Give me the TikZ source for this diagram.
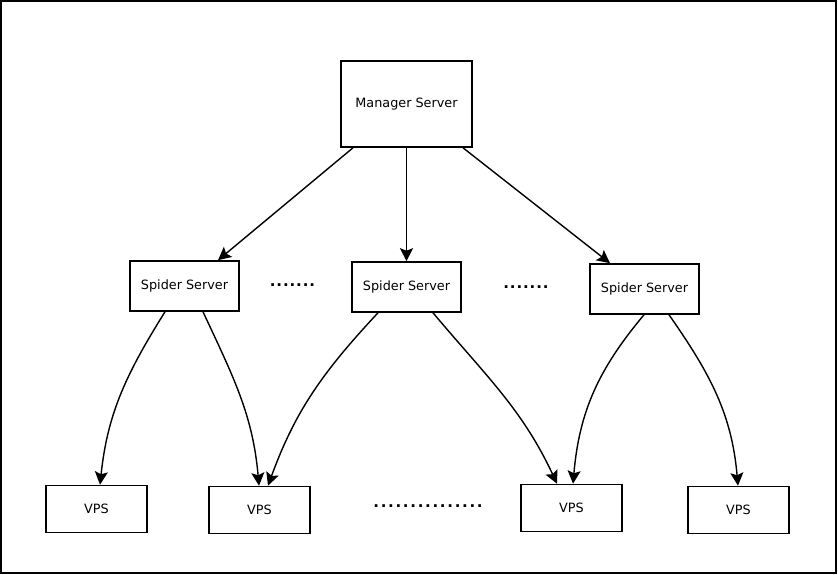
\documentclass[tikz,border=0pt]{standalone}
\usepackage{fontspec}
\setmainfont{DejaVu Sans}
\usetikzlibrary{arrows.meta}
\newcommand{\mydot}{.\kern0.9pt}
\newcommand{\mydotw}{.\kern1.7pt}
\begin{document}
\begin{tikzpicture}[x=1pt,y=-1pt,
  box/.style={draw,line width=1.6pt,inner sep=0pt,font=\fontsize{12.8}{15}\selectfont},
  conn/.style={line width=1.4pt,-{Stealth[length=13pt,width=13pt,inset=2.5pt]}},
  dotrow/.style={inner sep=0pt,font=\fontsize{15}{18}\selectfont\bfseries}]
\useasboundingbox (0,0) rectangle (838,575);
\draw[line width=1.8pt] (1,1) rectangle (836,573);
\node[box,minimum width=131pt,minimum height=86pt] (m) at (406.5,104) {Manager Server};
\node[box,minimum width=109pt,minimum height=50pt] (s1) at (184.5,286) {Spider Server};
\node[box,minimum width=109pt,minimum height=50pt] (s2) at (406.5,287) {Spider Server};
\node[box,minimum width=109pt,minimum height=50pt] (s3) at (644.5,289) {Spider Server};
\node[box,minimum width=101pt,minimum height=47pt] (v1) at (96.5,509) {VPS};
\node[box,minimum width=101pt,minimum height=47pt] (v2) at (259.5,510) {VPS};
\node[box,minimum width=101pt,minimum height=47pt] (v3) at (571.5,508) {VPS};
\node[box,minimum width=101pt,minimum height=47pt] (v4) at (738.5,510) {VPS};
\node[dotrow] (d1) at (292.5,285) {\mydot\mydot\mydot\mydot\mydot\mydot.};
\node[dotrow] (d2) at (526,287) {\mydot\mydot\mydot\mydot\mydot\mydot.};
\node[dotrow] (d3) at (428,506) {\mydotw\mydotw\mydotw\mydotw\mydotw\mydotw\mydotw\mydotw\mydotw\mydotw\mydotw\mydotw\mydotw\mydotw.};
\draw[conn] ([xshift=-53.5pt]m.south) -- ([xshift=33.5pt]s1.north);
\draw[conn] (m.south) -- (s2.north);
\draw[conn] ([xshift=56.5pt]m.south) -- ([xshift=-34.5pt]s3.north);
\draw[conn] ([xshift=-19.5pt]s1.south) to[out=-122,in=84] ([xshift=3.5pt]v1.north);
\draw[conn] ([xshift=18.5pt]s1.south) to[out=-65,in=95] ([xshift=-0.5pt]v2.north);
\draw[conn] ([xshift=-28.5pt]s2.south) to[out=-133,in=70] ([xshift=8.5pt]v2.north);
\draw[conn] ([xshift=26.5pt]s2.south) to[out=-50,in=115] ([xshift=-14.5pt]v3.north);
\draw[conn] ([xshift=-0.5pt]s3.south) to[out=-130,in=85] ([xshift=1.5pt]v3.north);
\draw[conn] ([xshift=24.5pt]s3.south) to[out=-55,in=95] ([xshift=-0.5pt]v4.north);
\end{tikzpicture}
\end{document}
